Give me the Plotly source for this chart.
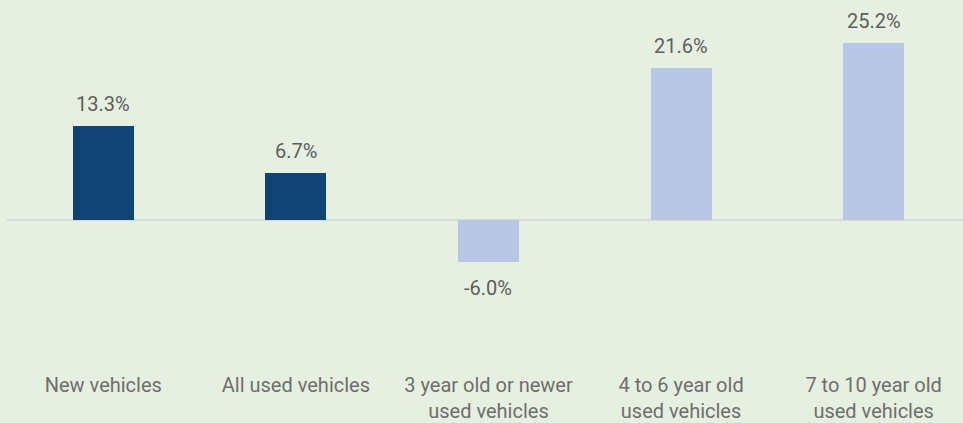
import plotly.graph_objects as go

categories = ["New vehicles", "All used vehicles", "3 year old or newer<br>used vehicles",
              "4 to 6 year old<br>used vehicles", "7 to 10 year old<br>used vehicles"]
values = [13.3, 6.7, -6.0, 21.6, 25.2]
labels = ["13.3%", "6.7%", "-6.0%", "21.6%", "25.2%"]
colors = ["#0F4475", "#0F4475", "#B9C7E6", "#B9C7E6", "#B9C7E6"]

BG = "#E6F0E0"
TXT = "#5E5E5E"
CAT_TXT = "#6E6E6E"
FONT = "Roboto"

fig = go.Figure()
fig.add_trace(go.Bar(x=categories, y=values, marker=dict(color=colors, line=dict(width=0)),
                     width=0.317, hoverinfo="skip"))

for c, v, t in zip(categories, values, labels):
    fig.add_annotation(x=c, y=v, text=t, showarrow=False,
                       yshift=22 if v >= 0 else -26,
                       font=dict(family=FONT, size=20, color=TXT))

fig.update_layout(
    width=963, height=423,
    margin=dict(l=7, r=0, t=0, b=50),
    paper_bgcolor=BG, plot_bgcolor=BG,
    showlegend=False,
    bargap=0,
    xaxis=dict(range=[-0.5, 4.464], showgrid=False, showline=False, ticks="",
               tickfont=dict(family=FONT, size=20, color=CAT_TXT)),
    yaxis=dict(range=[-21.5, 31.25], showgrid=False, showticklabels=False,
               zeroline=True, zerolinecolor="#D9D9D9", zerolinewidth=2),
)

fig.write_html("out.html", config={"displayModeBar": False, "staticPlot": True},
               post_script="document.body.style.margin='0';document.body.style.overflow='hidden';")
